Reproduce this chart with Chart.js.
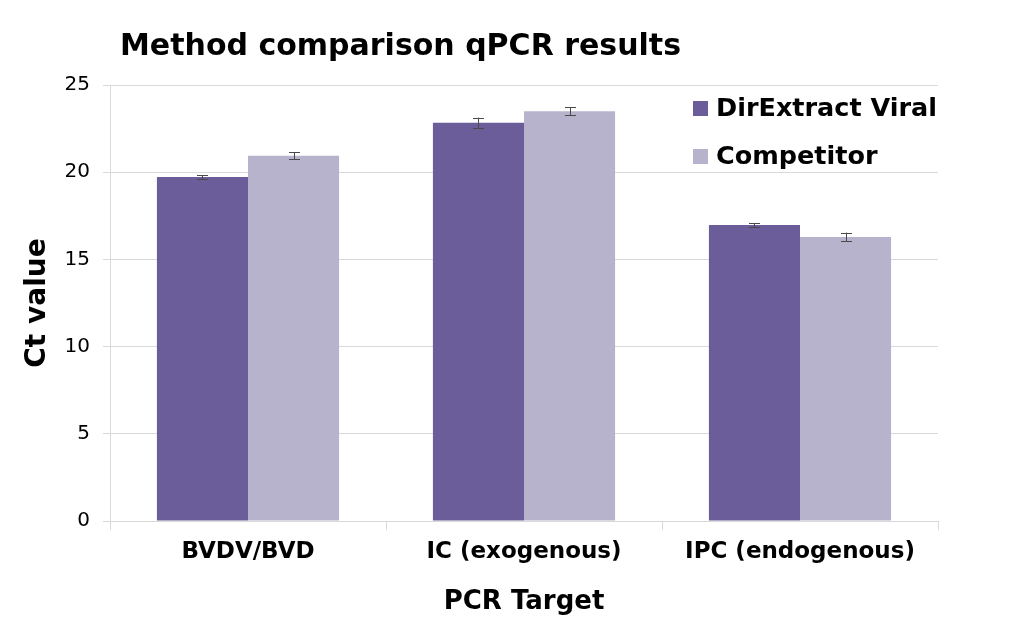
<!DOCTYPE html>
<html>
<head>
<meta charset="utf-8">
<script src="https://cdn.jsdelivr.net/npm/chart.js@4.4.1/dist/chart.umd.min.js"></script>
<style>
  html, body { margin: 0; padding: 0; background: #ffffff; }
  #wrap { width: 1024px; height: 625px; position: relative; }
</style>
</head>
<body>
<div id="wrap"><canvas id="c" width="1024" height="625"></canvas></div>
<script>
const categories = ["BVDV/BVD", "IC (exogenous)", "IPC (endogenous)"];
const seriesNames = ["DirExtract Viral", "Competitor"];
const dirextractValues = [19.72, 22.83, 16.97];
const dirextractErrors = [0.12, 0.3, 0.12];
const competitorValues = [20.95, 23.5, 16.29];
const competitorErrors = [0.2, 0.23, 0.25];
const yTicks = [0, 5, 10, 15, 20, 25];
const chartTitle = "Method comparison qPCR results";
const yAxisTitle = "Ct value";
const xAxisTitle = "PCR Target";

const DARK = "#6b5d9a";
const LIGHT = "#b7b3cc";
const GRID = "#d9d9d9";
const BOLD_FONT = "'DejaVu Sans', sans-serif";

const errorBarPlugin = {
  id: "errorBars",
  afterDatasetsDraw(chart) {
    const ctx = chart.ctx;
    const y = chart.scales.y;
    chart.data.datasets.forEach((ds, di) => {
      const meta = chart.getDatasetMeta(di);
      meta.data.forEach((bar, i) => {
        const v = ds.data[i];
        const e = ds.errors[i];
        const top = y.getPixelForValue(v + e);
        const bot = y.getPixelForValue(v - e);
        const x = Math.round(bar.x);
        ctx.save();
        ctx.strokeStyle = "#4a4a4a";
        ctx.lineWidth = 1;
        ctx.beginPath();
        ctx.moveTo(x + 0.5, top); ctx.lineTo(x + 0.5, bot);
        ctx.moveTo(x - 5, Math.round(top) + 0.5); ctx.lineTo(x + 6, Math.round(top) + 0.5);
        ctx.moveTo(x - 5, Math.round(bot) + 0.5); ctx.lineTo(x + 6, Math.round(bot) + 0.5);
        ctx.stroke();
        ctx.restore();
      });
    });
  }
};

const decorPlugin = {
  id: "decor",
  afterDraw(chart) {
    const ctx = chart.ctx;
    ctx.save();
    ctx.fillStyle = "#000";
    ctx.font = "bold 30px " + BOLD_FONT;
    ctx.textBaseline = "middle";
    ctx.textAlign = "left";
    ctx.fillText(chartTitle, 120, 47);
    const items = [[seriesNames[0], DARK, 108], [seriesNames[1], LIGHT, 156]];
    ctx.font = "bold 25.5px " + BOLD_FONT;
    items.forEach(([t, c, yy]) => {
      ctx.fillStyle = c;
      ctx.fillRect(693, yy - 7, 15, 15);
      ctx.fillStyle = "#000";
      ctx.fillText(t, 716, yy + 1);
    });
    ctx.restore();
  }
};

new Chart(document.getElementById("c"), {
  type: "bar",
  data: {
    labels: categories,
    datasets: [
      { label: seriesNames[0], data: dirextractValues, errors: dirextractErrors, backgroundColor: DARK },
      { label: seriesNames[1], data: competitorValues, errors: competitorErrors, backgroundColor: LIGHT }
    ]
  },
  options: {
    responsive: false,
    animation: false,
    layout: { padding: { left: 0, right: 86, top: 85, bottom: 0 } },
    datasets: { bar: { categoryPercentage: 0.66, barPercentage: 1.0 } },
    plugins: {
      legend: { display: false },
      tooltip: { enabled: false },
      title: { display: false }
    },
    scales: {
      x: {
        grid: {
          offset: true,
          color: (c) => (c.index === 0 || c.index === 3) ? GRID : "rgba(0,0,0,0)",
          tickColor: GRID,
          tickLength: 9,
          drawTicks: true
        },
        border: { color: GRID },
        ticks: {
          color: "#000",
          font: { family: BOLD_FONT, size: 23, weight: "bold" },
          padding: 8,
          maxRotation: 0
        },
        title: {
          display: true,
          text: xAxisTitle,
          color: "#000",
          font: { family: BOLD_FONT, size: 26, weight: "bold" },
          padding: { top: 0, bottom: 7 }
        },
        afterFit(s) { s.height = 104; }
      },
      y: {
        min: 0,
        max: 25,
        afterBuildTicks(s) { s.ticks = yTicks.map(v => ({ value: v })); },
        grid: { color: GRID, tickColor: GRID, tickLength: 7 },
        border: { color: GRID },
        ticks: {
          color: "#000",
          font: { family: "'DejaVu Sans', sans-serif", size: 20 },
          padding: 13
        },
        title: {
          display: true,
          text: yAxisTitle,
          color: "#000",
          font: { family: BOLD_FONT, size: 28, weight: "bold" },
          padding: { top: 21, bottom: 0 }
        },
        afterFit(s) { s.width = 110; }
      }
    }
  },
  plugins: [errorBarPlugin, decorPlugin]
});
</script>
</body>
</html>
